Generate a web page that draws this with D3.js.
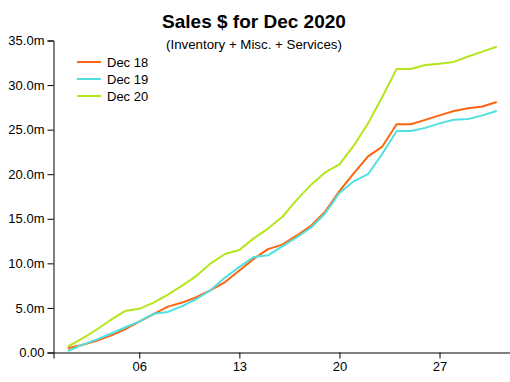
<!DOCTYPE html>
<html>
<head>
<meta charset="utf-8">
<script src="https://cdn.jsdelivr.net/npm/d3@7"></script>
<style>
  html, body { margin: 0; padding: 0; background: #fff; }
  svg { display: block; font-family: "Liberation Sans", Arial, sans-serif; }
</style>
</head>
<body>
<svg id="chart" width="510" height="382"></svg>
<script>
const days = d3.range(1, 32);
const dec18 = [0.47, 0.84, 1.3, 1.9, 2.6, 3.46, 4.3, 5.15, 5.6, 6.2, 7.0, 7.9, 9.2, 10.5, 11.6, 12.1, 13.1, 14.2, 15.8, 18.1, 20.1, 22.0, 23.1, 25.6, 25.6, 26.1, 26.6, 27.1, 27.4, 27.6, 28.1];
const dec19 = [0.17, 0.85, 1.45, 2.1, 2.8, 3.5, 4.35, 4.55, 5.2, 6.0, 7.0, 8.4, 9.6, 10.7, 10.9, 11.9, 12.9, 14.0, 15.6, 17.9, 19.2, 20.0, 22.3, 24.85, 24.85, 25.2, 25.7, 26.1, 26.2, 26.6, 27.1];
const dec20 = [0.65, 1.55, 2.55, 3.65, 4.65, 4.9, 5.6, 6.5, 7.5, 8.6, 10.0, 11.05, 11.5, 12.8, 13.9, 15.2, 17.1, 18.8, 20.2, 21.1, 23.2, 25.7, 28.7, 31.8, 31.8, 32.25, 32.4, 32.6, 33.2, 33.75, 34.3];
const seriesNames = ["Dec 18", "Dec 19", "Dec 20"];
const seriesColors = ["#ff6410", "#50e0e0", "#b4e61e"];
const yTicks = [0, 5, 10, 15, 20, 25, 30, 35];
const xTicks = [6, 13, 20, 27];
const titleText = "Sales $ for Dec 2020";
const subtitleText = "(Inventory + Misc. + Services)";

const svg = d3.select("#chart");
const x = d3.scaleLinear().domain([0, 32]).range([53.5, 511]);
const y = d3.scaleLinear().domain([0, 35]).range([352.5, 40.5]);

// title
svg.append("text").attr("x", 254).attr("y", 28).attr("text-anchor", "middle")
  .attr("font-size", 19).attr("font-weight", "bold").attr("fill", "#000").text(titleText);
svg.append("text").attr("x", 254).attr("y", 48.5).attr("text-anchor", "middle")
  .attr("font-size", 13.3).attr("fill", "#000").text(subtitleText);

// axes
const yAxis = d3.axisLeft(y).tickValues(yTicks).tickSizeOuter(0).tickSize(6).tickPadding(3)
  .tickFormat(d => d === 0 ? "0.00" : d.toFixed(1) + "m");
const gy = svg.append("g").attr("transform", `translate(${x(0)},0)`).call(yAxis);
gy.selectAll("text").attr("font-size", 13).attr("font-family", "Liberation Sans, Arial, sans-serif").attr("fill", "#000");
gy.selectAll("line,path").attr("stroke", "#000");

const xAxis = d3.axisBottom(x).tickValues(xTicks).tickSizeOuter(0).tickSize(6).tickPadding(3)
  .tickFormat(d => String(d).padStart(2, "0"));
const gx = svg.append("g").attr("transform", `translate(0,${y(0)})`).call(xAxis);
gx.selectAll("text").attr("font-size", 13).attr("font-family", "Liberation Sans, Arial, sans-serif").attr("fill", "#000");
gx.selectAll("line,path").attr("stroke", "#000");

// lines
const line = d3.line().x((d, i) => x(days[i])).y(d => y(d));
[dec18, dec19, dec20].forEach((s, k) => {
  svg.append("path").datum(s).attr("d", line).attr("fill", "none")
    .attr("stroke", seriesColors[k]).attr("stroke-width", 2).attr("stroke-linejoin", "round");
});

// legend
const lg = svg.append("g");
seriesNames.forEach((n, k) => {
  const yy = 62 + k * 17;
  lg.append("line").attr("x1", 77).attr("x2", 101).attr("y1", yy).attr("y2", yy)
    .attr("stroke", seriesColors[k]).attr("stroke-width", 2);
  lg.append("text").attr("x", 107).attr("y", yy + 4.5).attr("font-size", 13).attr("fill", "#000").text(n);
});
</script>
</body>
</html>
